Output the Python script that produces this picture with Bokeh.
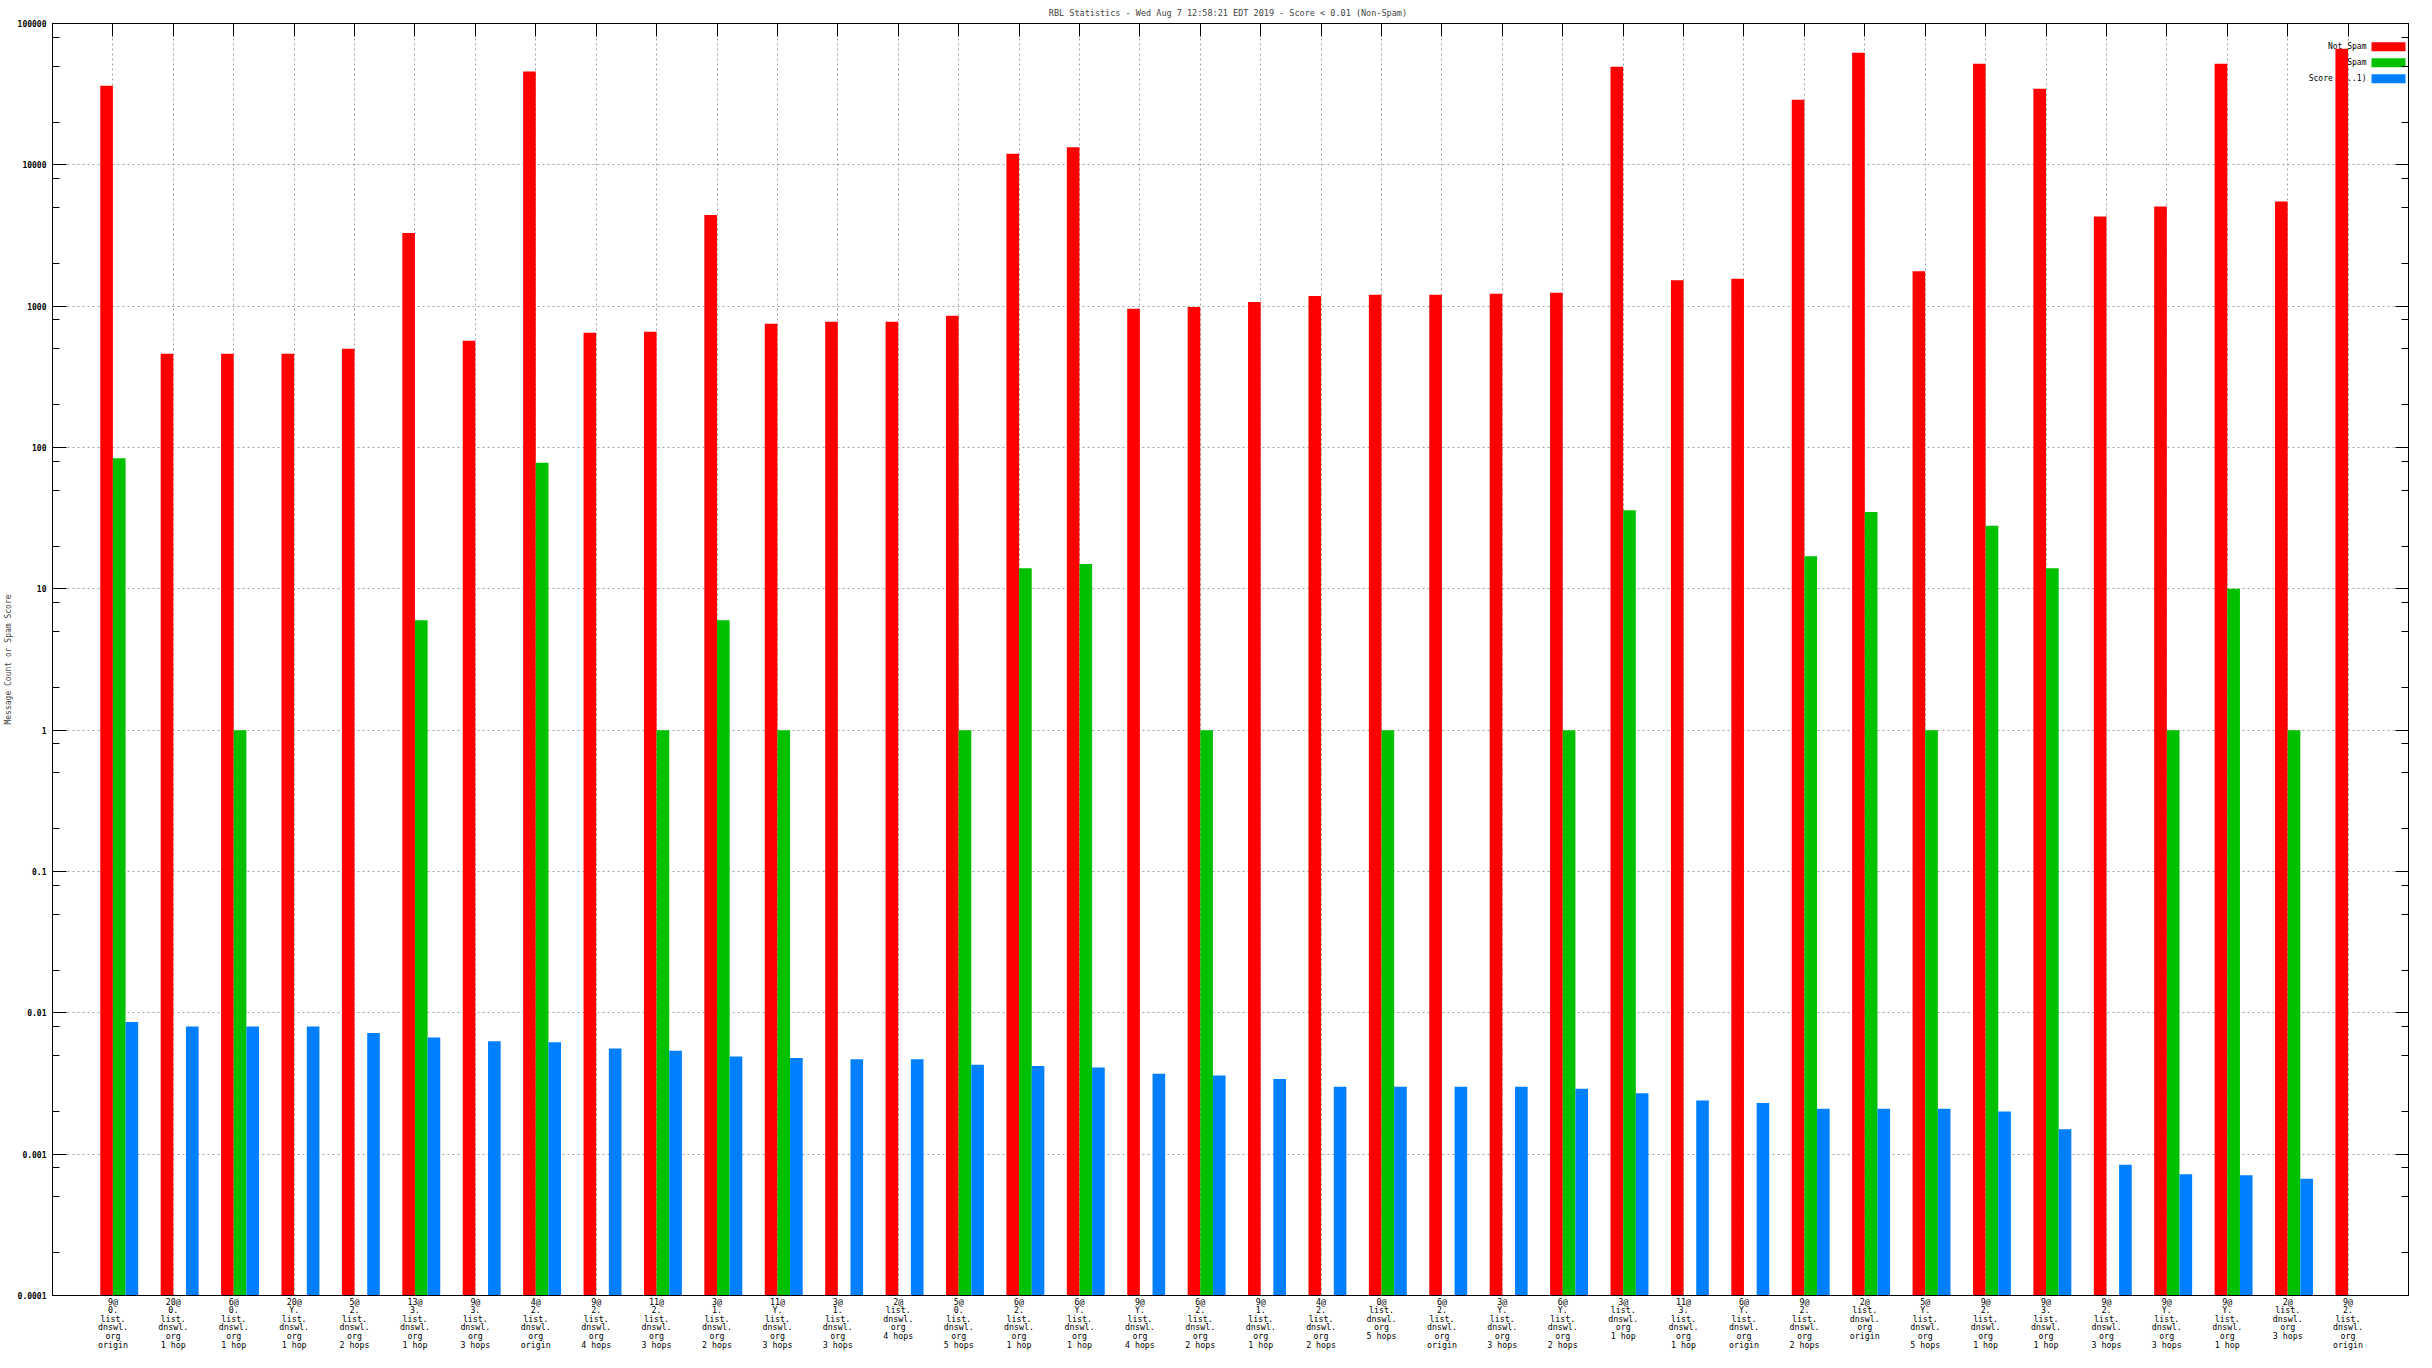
import numpy as np
from bokeh.plotting import figure
from bokeh.models import (ColumnDataSource, FactorRange, Range1d, FixedTicker,
                          LogAxis, CategoricalAxis, Label, BoxAnnotation,
                          CustomJSTickFormatter)
from bokeh.transform import dodge
from bokeh.embed import file_html
from bokeh.resources import INLINE

# ---------------- data ----------------
labels = [
    "9@\n0.\nlist.\ndnswl.\norg\norigin",
    "20@\n0.\nlist.\ndnswl.\norg\n1 hop",
    "6@\n0.\nlist.\ndnswl.\norg\n1 hop",
    "20@\nY.\nlist.\ndnswl.\norg\n1 hop",
    "5@\n2.\nlist.\ndnswl.\norg\n2 hops",
    "13@\n3.\nlist.\ndnswl.\norg\n1 hop",
    "9@\n3.\nlist.\ndnswl.\norg\n3 hops",
    "4@\n2.\nlist.\ndnswl.\norg\norigin",
    "9@\n2.\nlist.\ndnswl.\norg\n4 hops",
    "11@\n2.\nlist.\ndnswl.\norg\n3 hops",
    "3@\n1.\nlist.\ndnswl.\norg\n2 hops",
    "11@\nY.\nlist.\ndnswl.\norg\n3 hops",
    "3@\n1.\nlist.\ndnswl.\norg\n3 hops",
    "2@\nlist.\ndnswl.\norg\n4 hops",
    "5@\n0.\nlist.\ndnswl.\norg\n5 hops",
    "6@\n2.\nlist.\ndnswl.\norg\n1 hop",
    "6@\nY.\nlist.\ndnswl.\norg\n1 hop",
    "9@\nY.\nlist.\ndnswl.\norg\n4 hops",
    "6@\n2.\nlist.\ndnswl.\norg\n2 hops",
    "9@\n1.\nlist.\ndnswl.\norg\n1 hop",
    "4@\n2.\nlist.\ndnswl.\norg\n2 hops",
    "0@\nlist.\ndnswl.\norg\n5 hops",
    "6@\n2.\nlist.\ndnswl.\norg\norigin",
    "3@\nY.\nlist.\ndnswl.\norg\n3 hops",
    "6@\nY.\nlist.\ndnswl.\norg\n2 hops",
    "3@\nlist.\ndnswl.\norg\n1 hop",
    "11@\n3.\nlist.\ndnswl.\norg\n1 hop",
    "6@\nY.\nlist.\ndnswl.\norg\norigin",
    "9@\n2.\nlist.\ndnswl.\norg\n2 hops",
    "2@\nlist.\ndnswl.\norg\norigin",
    "5@\nY.\nlist.\ndnswl.\norg\n5 hops",
    "9@\n2.\nlist.\ndnswl.\norg\n1 hop",
    "9@\n3.\nlist.\ndnswl.\norg\n1 hop",
    "9@\n2.\nlist.\ndnswl.\norg\n3 hops",
    "9@\nY.\nlist.\ndnswl.\norg\n3 hops",
    "9@\nY.\nlist.\ndnswl.\norg\n1 hop",
    "2@\nlist.\ndnswl.\norg\n3 hops",
    "9@\n2.\nlist.\ndnswl.\norg\norigin",
]

not_spam = [36300, 460, 460, 460, 500, 3290, 569, 45800, 649, 659,
            4410, 750, 775, 775, 855, 12000, 13300, 957, 988, 1072,
            1182, 1202, 1202, 1222, 1242, 49400, 1525, 1560, 28900, 62000,
            1766, 51900, 34560, 4315, 5080, 51900, 5510, 66200]

spam = [84, None, 1, None, None, 6, None, 78, None, 1,
        6, 1, None, None, 1, 14, 15, None, 1, None,
        None, 1, None, None, 1, 36, None, None, 17, 35,
        1, 28, 14, None, 1, 10, 1, None]

score = [0.0086, 0.0080, 0.0080, 0.0080, 0.0072, 0.0067, 0.0063, 0.0062, 0.0056, 0.0054,
         0.0049, 0.0048, 0.0047, 0.0047, 0.0043, 0.0042, 0.0041, 0.0037, 0.0036, 0.0034,
         0.0030, 0.0030, 0.0030, 0.0030, 0.0029, 0.0027, 0.0024, 0.0023, 0.0021, 0.0021,
         0.0021, 0.0020, 0.0015, 0.00084, 0.00072, 0.00071, 0.00067, None]

series_names = ["Not Spam", "Spam", "Score (0..1)"]
colors = ["#ff0000", "#00c000", "#0080ff"]

title_text = "RBL Statistics - Wed Aug  7 12:58:21 EDT 2019 - Score < 0.01 (Non-Spam)"
y_label = "Message Count or Spam Score"
y_floor, y_ceil = 1e-4, 1e5

# ---------------- figure ----------------
FONT = "DejaVu Sans Mono"

p = figure(width=2416, height=1352,
           x_range=FactorRange(factors=labels, range_padding=0.5,
                               range_padding_units="absolute"),
           y_range=Range1d(y_floor, y_ceil), y_axis_type="log",
           output_backend="svg", toolbar_location=None,
           min_border_left=47, min_border_right=8,
           min_border_top=16, min_border_bottom=0)

p.title.text = title_text
p.title.align = "center"
p.title.offset = 7
p.title.text_font = FONT
p.title.text_font_size = "8.5px"
p.title.text_font_style = "normal"
p.title.standoff = 11

p.outline_line_color = "black"
p.outline_line_width = 1
p.outline_line_alpha = 1.0

decades = [10.0 ** k for k in range(-4, 6)]
minors = [m * d for d in decades[:-1] for m in (2, 5, 8)]

def yticker():
    return FixedTicker(ticks=decades, minor_ticks=minors)

fmt = CustomJSTickFormatter(code="return String(parseFloat(tick.toPrecision(6)));")

ya = p.yaxis[0]
ya.ticker = yticker()
ya.formatter = fmt
ya.major_tick_in = 14
ya.major_tick_out = 0
ya.minor_tick_in = 7
ya.minor_tick_out = 0
ya.major_label_standoff = 6
ya.major_label_text_font = FONT
ya.major_label_text_font_size = "8px"
ya.major_label_text_font_style = "bold"
ya.major_label_text_color = "black"
ya.axis_label = y_label
ya.axis_label_text_font = FONT
ya.axis_label_text_font_size = "8px"
ya.axis_label_text_font_style = "normal"
ya.axis_label_standoff = 2
ya.axis_line_color = "black"

xa = p.xaxis[0]
xa.major_tick_in = 0
xa.major_tick_out = 0
xa.major_label_standoff = 1
xa.major_label_text_font = FONT
xa.major_label_text_font_size = "8.3px"
xa.major_label_text_line_height = 0.86
xa.major_label_text_color = "black"
xa.axis_label_standoff = 0
xa.axis_line_color = "black"

ra = LogAxis(ticker=yticker(), formatter=fmt,
             major_label_text_font_size="1px", major_label_text_color=None,
             major_label_standoff=0, axis_label_standoff=0,
             major_tick_in=13, major_tick_out=0,
             minor_tick_in=7, minor_tick_out=0, axis_line_color="black")
p.add_layout(ra, "right")

ta = CategoricalAxis(major_label_text_font_size="1px", major_label_text_color=None,
                     major_label_standoff=0, axis_label_standoff=0,
                     major_tick_in=13, major_tick_out=0, axis_line_color="black")
p.add_layout(ta, "above")

for g in (p.xgrid[0], p.ygrid[0]):
    g.grid_line_color = "#a0a0a0"
    g.grid_line_dash = "2 3"
    g.grid_line_width = 1

# ---------------- bars ----------------
bw = 0.209
offsets = [-0.105, 0.105, 0.314]
for vals, color, off in zip([not_spam, spam, score], colors, offsets):
    xs = [l for l, v in zip(labels, vals) if v is not None]
    ys = [v for v in vals if v is not None]
    src = ColumnDataSource(dict(x=xs, top=ys))
    p.vbar(x=dodge("x", off, range=p.x_range), top="top", bottom=y_floor,
           width=bw, fill_color=color, line_color=None, source=src)

# ---------------- legend (text left of swatch, like gnuplot) ----------------
frame_h = 1270
for i, (name, color) in enumerate(zip(series_names, colors)):
    yc = frame_h - 21.3 - 16 * i
    lab = Label(x=2314, y=yc, x_units="screen", y_units="screen", text=name,
                text_align="right", text_baseline="middle",
                text_font=FONT, text_font_size="8px", text_color="black",
                level="underlay")
    p.add_layout(lab)
    box = BoxAnnotation(left=2319, right=2353, bottom=yc - 4.5, top=yc + 4.5,
                        left_units="screen", right_units="screen",
                        bottom_units="screen", top_units="screen",
                        fill_color=color, fill_alpha=1.0, line_color=None,
                        level="underlay")
    p.add_layout(box)

open("out.html", "w").write(file_html(p, INLINE))
